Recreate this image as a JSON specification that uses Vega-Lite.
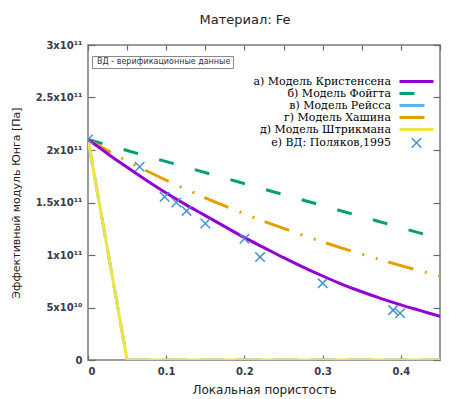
{
  "$schema": "https://vega.github.io/schema/vega-lite/v6.json",
  "width": 352,
  "height": 315,
  "autosize": {"type": "none"},
  "padding": {"left": 88, "top": 45, "right": 14, "bottom": 39},
  "background": "white",
  "config": {
    "view": {"stroke": "#7a7a7a", "strokeWidth": 1.5},
    "font": "DejaVu Sans"
  },
  "title": {
    "text": "Материал: Fe",
    "font": "DejaVu Sans",
    "fontSize": 13,
    "fontWeight": "normal",
    "color": "#222222",
    "anchor": "middle",
    "dx": -19,
    "offset": 13
  },
  "datasets": {
    "lines": [
      {"series": "в) Модель Рейсса", "x": 0, "y": 210000000000},
      {"series": "в) Модель Рейсса", "x": 0.05, "y": 0},
      {"series": "в) Модель Рейсса", "x": 0.45, "y": 0},
      {"series": "а) Модель Кристенсена", "x": 0, "y": 210000000000},
      {"series": "а) Модель Кристенсена", "x": 0.025, "y": 196500000000},
      {"series": "а) Модель Кристенсена", "x": 0.05, "y": 183500000000},
      {"series": "а) Модель Кристенсена", "x": 0.075, "y": 171000000000},
      {"series": "а) Модель Кристенсена", "x": 0.1, "y": 159000000000},
      {"series": "а) Модель Кристенсена", "x": 0.125, "y": 148000000000},
      {"series": "а) Модель Кристенсена", "x": 0.15, "y": 137500000000},
      {"series": "а) Модель Кристенсена", "x": 0.175, "y": 127000000000},
      {"series": "а) Модель Кристенсена", "x": 0.2, "y": 116500000000},
      {"series": "а) Модель Кристенсена", "x": 0.225, "y": 107000000000},
      {"series": "а) Модель Кристенсена", "x": 0.25, "y": 97500000000},
      {"series": "а) Модель Кристенсена", "x": 0.275, "y": 88500000000},
      {"series": "а) Модель Кристенсена", "x": 0.3, "y": 80000000000},
      {"series": "а) Модель Кристенсена", "x": 0.325, "y": 72000000000},
      {"series": "а) Модель Кристенсена", "x": 0.35, "y": 65000000000},
      {"series": "а) Модель Кристенсена", "x": 0.375, "y": 58500000000},
      {"series": "а) Модель Кристенсена", "x": 0.4, "y": 52500000000},
      {"series": "а) Модель Кристенсена", "x": 0.425, "y": 47000000000},
      {"series": "а) Модель Кристенсена", "x": 0.45, "y": 41500000000},
      {"series": "б) Модель Фойгта", "x": 0, "y": 210000000000},
      {"series": "б) Модель Фойгта", "x": 0.45, "y": 115500000000},
      {"series": "г) Модель Хашина", "x": 0, "y": 210000000000},
      {"series": "г) Модель Хашина", "x": 0.05, "y": 189500000000},
      {"series": "г) Модель Хашина", "x": 0.1, "y": 171200000000},
      {"series": "г) Модель Хашина", "x": 0.15, "y": 154500000000},
      {"series": "г) Модель Хашина", "x": 0.2, "y": 139200000000},
      {"series": "г) Модель Хашина", "x": 0.25, "y": 125300000000},
      {"series": "г) Модель Хашина", "x": 0.3, "y": 112500000000},
      {"series": "г) Модель Хашина", "x": 0.35, "y": 100800000000},
      {"series": "г) Модель Хашина", "x": 0.4, "y": 89900000000},
      {"series": "г) Модель Хашина", "x": 0.45, "y": 80000000000},
      {"series": "д) Модель Штрикмана", "x": 0, "y": 210000000000},
      {"series": "д) Модель Штрикмана", "x": 0.05, "y": 0},
      {"series": "д) Модель Штрикмана", "x": 0.45, "y": 0}
    ],
    "pts": [
      {"series": "е) ВД: Поляков,1995", "src": "ВД - верификационные данные", "x": 0, "y": 210000000000},
      {"series": "е) ВД: Поляков,1995", "src": "ВД - верификационные данные", "x": 0.066, "y": 184000000000},
      {"series": "е) ВД: Поляков,1995", "src": "ВД - верификационные данные", "x": 0.098, "y": 155500000000},
      {"series": "е) ВД: Поляков,1995", "src": "ВД - верификационные данные", "x": 0.113, "y": 150000000000},
      {"series": "е) ВД: Поляков,1995", "src": "ВД - верификационные данные", "x": 0.126, "y": 142000000000},
      {"series": "е) ВД: Поляков,1995", "src": "ВД - верификационные данные", "x": 0.15, "y": 130000000000},
      {"series": "е) ВД: Поляков,1995", "src": "ВД - верификационные данные", "x": 0.2, "y": 115500000000},
      {"series": "е) ВД: Поляков,1995", "src": "ВД - верификационные данные", "x": 0.22, "y": 98000000000},
      {"series": "е) ВД: Поляков,1995", "src": "ВД - верификационные данные", "x": 0.3, "y": 73000000000},
      {"series": "е) ВД: Поляков,1995", "src": "ВД - верификационные данные", "x": 0.39, "y": 47500000000},
      {"series": "е) ВД: Поляков,1995", "src": "ВД - верификационные данные", "x": 0.399, "y": 44500000000}
    ]
  },
  "layer": [
    {
      "layer": [
        {
          "data": {"name": "lines"},
          "transform": [{"filter": "datum.series === 'в) Модель Рейсса'"}],
          "mark": {"type": "line", "strokeWidth": 3, "strokeCap": "butt", "clip": true, "strokeDash": [25, 12]},
          "encoding": {
            "x": {"field": "x", "type": "quantitative", "scale": {"domain": [0, 0.45], "nice": false, "zero": false},
              "axis": {"title": "Локальная пористость", "values": [0, 0.05, 0.1, 0.15, 0.2, 0.25, 0.3, 0.35, 0.4, 0.45],
                "labelExpr": "format(datum.value, '~g')", "labelOverlap": false, "domain": false, "grid": false,
                "tickSize": -5, "tickColor": "#6a6a6a", "tickWidth": 1.2, "labelPadding": 11,
                "labelFont": "DejaVu Sans", "labelFontSize": 10, "labelFontWeight": "bold", "labelColor": "#3a3a4a",
                "titleFont": "DejaVu Sans", "titleFontSize": 12, "titleFontWeight": "normal", "titleColor": "#222222", "titlePadding": 8}},
            "y": {"field": "y", "type": "quantitative", "scale": {"domain": [0, 300000000000], "nice": false},
              "axis": {"title": "Эффективный модуль Юнга [Па]", "values": [0, 50000000000, 100000000000, 150000000000, 200000000000, 250000000000, 300000000000],
                "labelExpr": "datum.value == 0 ? '0' : (datum.value >= 1e11 ? format(datum.value / 1e11, '~g') + 'x10¹¹' : format(datum.value / 1e10, '~g') + 'x10¹⁰')",
                "labelOverlap": false, "domain": false, "grid": false,
                "tickSize": -7, "tickColor": "#6a6a6a", "tickWidth": 1.2, "labelPadding": 13,
                "labelFont": "DejaVu Sans", "labelFontSize": 10, "labelFontWeight": "bold", "labelColor": "#3a3a4a",
                "titleFont": "DejaVu Sans", "titleFontSize": 11, "titleFontWeight": "normal", "titleColor": "#222222", "titlePadding": 14}},
            "color": {"field": "series", "type": "nominal",
              "scale": {"domain": ["а) Модель Кристенсена", "б) Модель Фойгта", "в) Модель Рейсса", "г) Модель Хашина", "д) Модель Штрикмана", "е) ВД: Поляков,1995"],
                "range": ["#9400D3", "#009E73", "#56B4E9", "#E69F00", "#F0E442", "#4393d3"]},
              "legend": {
                "title": null, "orient": "none", "legendX": 323, "legendY": 31, "padding": 0, "columns": 1,
                "symbolType": "stroke", "symbolSize": 1156, "symbolStrokeWidth": 3,
                "labelFont": "DejaVu Serif", "labelFontSize": 11, "labelColor": "#000000",
                "labelAlign": "right", "labelOffset": -31, "labelLimit": 300, "rowPadding": -1.6,
                "encode": {"symbols": {"update": {
                  "shape": {"signal": "datum.value === 'е) ВД: Поляков,1995' ? 'M-1,-1L1,1M1,-1L-1,1' : 'stroke'"},
                  "size": {"signal": "datum.value === 'е) ВД: Поляков,1995' ? 90 : 1156"},
                  "strokeWidth": {"signal": "datum.value === 'е) ВД: Поляков,1995' ? 1.5 : 3"},
                  "strokeDash": {"signal": "datum.value === 'б) Модель Фойгта' ? [15, 22] : ((datum.value === 'в) Модель Рейсса' || datum.value === 'г) Модель Хашина') ? [25, 12] : [1, 0])"},
                  "fill": {"value": "transparent"},
                  "opacity": {"value": 1}
                }}}
              }}
          }
        },
        {
          "data": {"name": "lines"},
          "transform": [{"filter": "datum.series === 'д) Модель Штрикмана'"}],
          "mark": {"type": "line", "strokeWidth": 3, "strokeCap": "butt", "clip": true},
          "encoding": {
            "x": {"field": "x", "type": "quantitative"},
            "y": {"field": "y", "type": "quantitative"},
            "color": {"field": "series", "type": "nominal"}
          }
        },
        {
          "data": {"name": "lines"},
          "transform": [{"filter": "datum.series === 'б) Модель Фойгта'"}],
          "mark": {"type": "line", "strokeWidth": 3, "strokeCap": "butt", "clip": true, "strokeDash": [15, 22]},
          "encoding": {
            "x": {"field": "x", "type": "quantitative"},
            "y": {"field": "y", "type": "quantitative"},
            "color": {"field": "series", "type": "nominal"}
          }
        },
        {
          "data": {"name": "lines"},
          "transform": [{"filter": "datum.series === 'г) Модель Хашина'"}],
          "mark": {"type": "line", "strokeWidth": 3, "strokeCap": "butt", "clip": true, "interpolate": "monotone", "strokeDash": [26, 12, 2, 12, 2, 11]},
          "encoding": {
            "x": {"field": "x", "type": "quantitative"},
            "y": {"field": "y", "type": "quantitative"},
            "color": {"field": "series", "type": "nominal"}
          }
        },
        {
          "data": {"name": "lines"},
          "transform": [{"filter": "datum.series === 'а) Модель Кристенсена'"}],
          "mark": {"type": "line", "strokeWidth": 3, "strokeCap": "butt", "clip": true, "interpolate": "monotone"},
          "encoding": {
            "x": {"field": "x", "type": "quantitative"},
            "y": {"field": "y", "type": "quantitative"},
            "color": {"field": "series", "type": "nominal"}
          }
        },
        {
          "data": {"name": "pts"},
          "mark": {"type": "point", "filled": false, "strokeWidth": 1.5, "size": 90, "opacity": 1, "clip": true},
          "encoding": {
            "x": {"field": "x", "type": "quantitative"},
            "y": {"field": "y", "type": "quantitative"},
            "color": {"field": "series", "type": "nominal"},
            "shape": {"field": "src", "type": "nominal",
              "scale": {"range": ["M-1,-1L1,1M1,-1L-1,1"]},
              "legend": {
                "title": null, "orient": "none", "legendX": 4, "legendY": 11, "padding": 2,
                "strokeColor": "#8a8a8a", "fillColor": "#ffffff",
                "symbolSize": 0, "symbolStrokeWidth": 0, "symbolOpacity": 0, "labelOffset": -5,
                "labelFont": "DejaVu Sans", "labelFontSize": 8, "labelColor": "#333333", "labelLimit": 300
              }}
          }
        }
      ]
    },
    {
      "data": {"name": "pts"},
      "mark": {"type": "point", "opacity": 0},
      "encoding": {
        "x": {"field": "x", "type": "quantitative",
          "axis": {"orient": "top", "title": null, "labels": false, "domain": false, "grid": false,
            "values": [0, 0.05, 0.1, 0.15, 0.2, 0.25, 0.3, 0.35, 0.4, 0.45],
            "tickSize": -5, "tickColor": "#6a6a6a", "tickWidth": 1.2}},
        "y": {"field": "y", "type": "quantitative",
          "axis": {"orient": "right", "title": null, "labels": false, "domain": false, "grid": false,
            "values": [0, 50000000000, 100000000000, 150000000000, 200000000000, 250000000000, 300000000000],
            "tickSize": -7, "tickColor": "#6a6a6a", "tickWidth": 1.2}}
      }
    }
  ],
  "resolve": {"axis": {"x": "independent", "y": "independent"}}
}
